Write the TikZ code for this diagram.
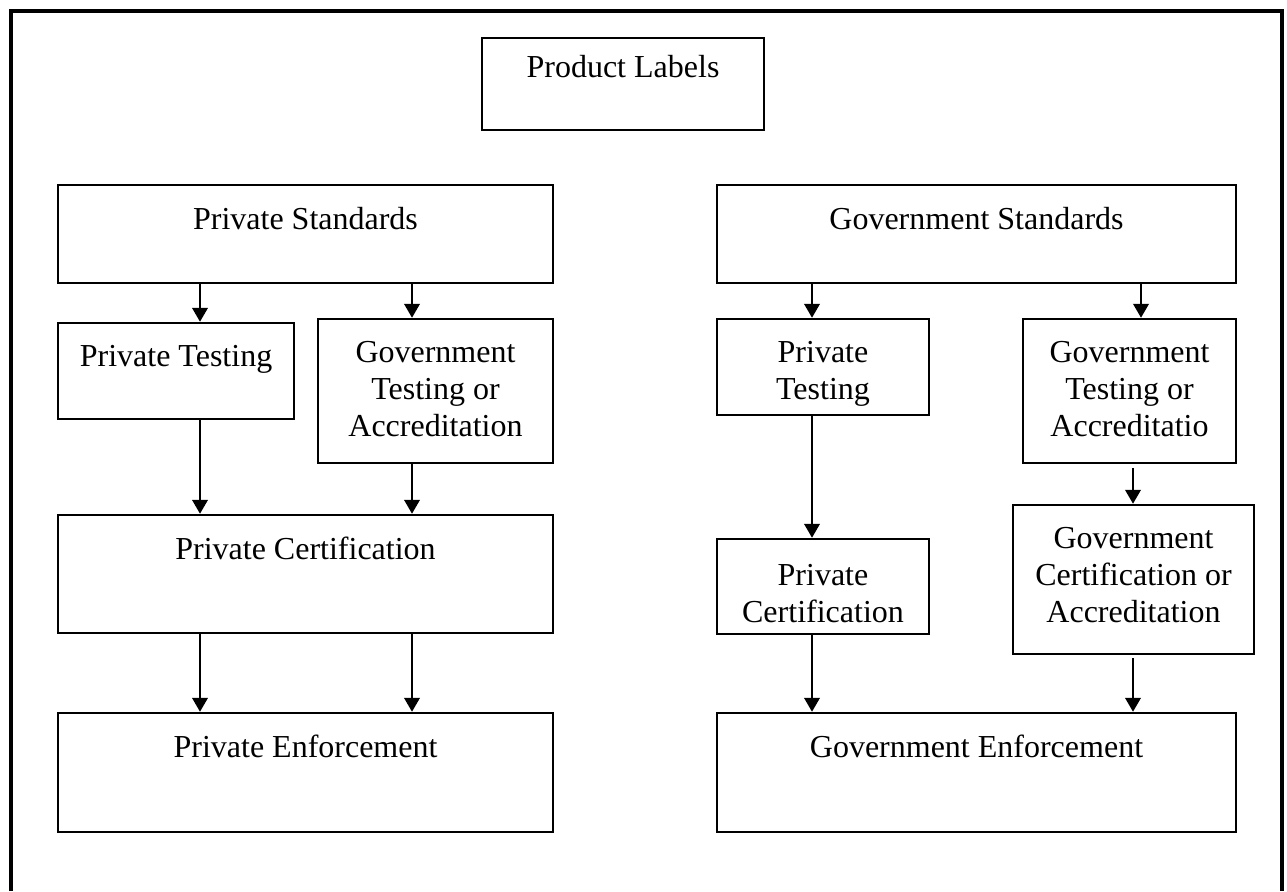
\documentclass[tikz,border=0pt]{standalone}
\usepackage{fontspec}
\setmainfont{Liberation Serif}
\usetikzlibrary{arrows.meta,fit}

\tikzset{
  box/.style={draw, line width=0.95pt, inner sep=0pt},
  txt/.style={anchor=north, align=center, inner sep=0pt, yshift=-8.6pt,
    font=\fontsize{12}{13.8}\selectfont},
  flow/.style={-{Triangle[length=5.2pt,width=5.8pt]}, line width=0.8pt},
}

\begin{document}
\begin{tikzpicture}[x=0.375pt,y=-0.375pt]
    \useasboundingbox (0,0) rectangle (1287,891);
    \draw[line width=1.15pt] (11,891) |- (1282,11) -- (1282,891);

    \node[box, fit={(482,38) (764,130)}, label={[txt, yshift=2pt]north:Product Labels}] (labels) {};

    % private side
    \node[box, fit={(58,185) (553,283)}, label={[txt]north:Private Standards}] (priv-std) {};
    \node[box, fit={(58,323) (294,419)}, label={[txt]north:Private Testing}] (priv-test) {};
    \node[box, fit={(318,319) (553,463)}, label={[txt]north:Government\\Testing or\\Accreditation}] (gov-test) {};
    \node[box, fit={(58,515) (553,633)}, label={[txt]north:Private Certification}] (priv-cert) {};
    \node[box, fit={(58,713) (553,832)}, label={[txt]north:Private Enforcement}] (priv-enf) {};

    % government side
    \node[box, fit={(717,185) (1236,283)}, label={[txt]north:Government Standards}] (gov-std) {};
    \node[box, fit={(717,319) (929,415)}, label={[txt]north:Private\\Testing}] (gs-priv-test) {};
    \node[box, fit={(1023,319) (1236,463)}, label={[txt]north:Government\\Testing or\\Accreditatio}] (gs-gov-test) {};
    \node[box, fit={(717,539) (929,634)}, label={[txt, yshift=-1.2pt]north:Private\\Certification}] (gs-priv-cert) {};
    \node[box, fit={(1013,505) (1254,654)}, label={[txt]north:Government\\Certification or\\Accreditation}] (gs-gov-cert) {};
    \node[box, fit={(717,713) (1236,832)}, label={[txt]north:Government Enforcement}] (gov-enf) {};

    \coordinate (c1) at (200,0);
    \coordinate (c2) at (412,0);
    \coordinate (c3) at (812,0);
    \coordinate (c4) at (1141,0);
    \coordinate (c5) at (1133,0);

    \draw[flow] (priv-std.south -| c1) -- (priv-test.north -| c1);
    \draw[flow] (priv-std.south -| c2) -- (gov-test.north -| c2);
    \draw[flow] (priv-test.south -| c1) -- (priv-cert.north -| c1);
    \draw[flow] (gov-test.south -| c2) -- (priv-cert.north -| c2);
    \draw[flow] (priv-cert.south -| c1) -- (priv-enf.north -| c1);
    \draw[flow] (priv-cert.south -| c2) -- (priv-enf.north -| c2);

    \draw[flow] (gov-std.south -| c3) -- (gs-priv-test.north -| c3);
    \draw[flow] (gov-std.south -| c4) -- (gs-gov-test.north -| c4);
    \draw[flow] (gs-priv-test.south -| c3) -- (gs-priv-cert.north -| c3);
    \draw[flow, shorten <=1.5pt] (gs-gov-test.south -| c5) -- (gs-gov-cert.north -| c5);
    \draw[flow] (gs-priv-cert.south -| c3) -- (gov-enf.north -| c3);
    \draw[flow, shorten <=1.2pt] (gs-gov-cert.south -| c5) -- (gov-enf.north -| c5);
\end{tikzpicture}
\end{document}
